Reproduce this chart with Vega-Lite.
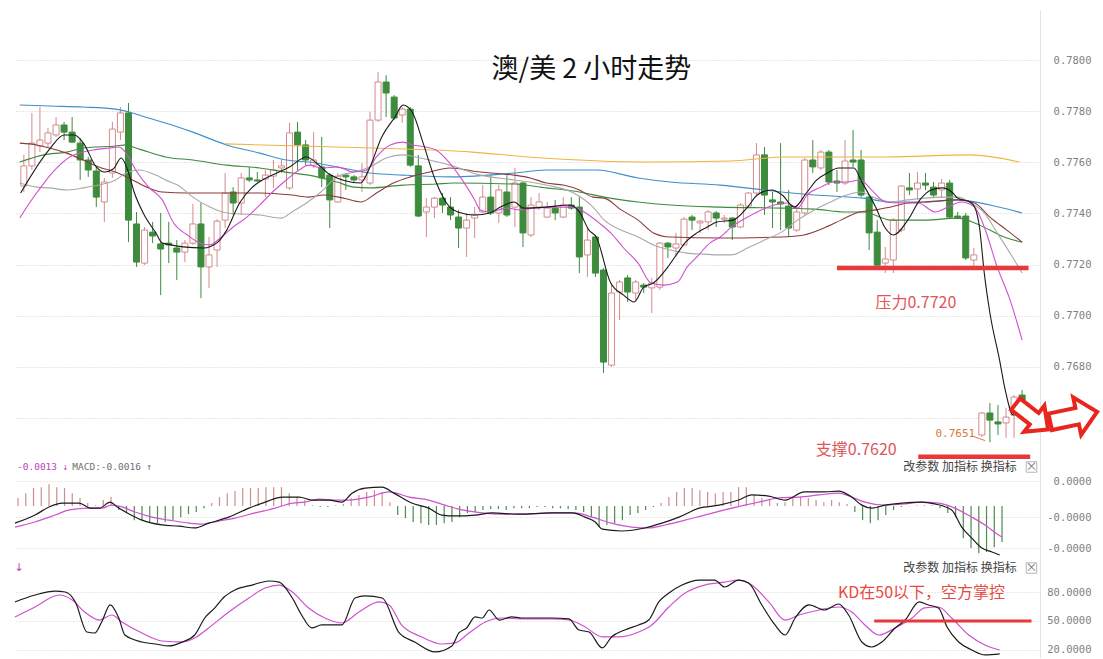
{
"$schema": "https://vega.github.io/schema/vega-lite/v6.json",
"background": "white",
"padding": {"left": 12, "top": 10, "right": 0, "bottom": 0},
"autosize": {"type": "pad"},
"bounds": "flush",
"spacing": 0,
"resolve": {"scale": {"color": "independent", "x": "independent", "y": "independent"}},
"config": {"view": {"stroke": null}, "font": "Noto Sans CJK SC"},
"datasets": {
"candles": [
{"i":0,"o":0.77507,"h":0.77629,"l":0.77484,"c":0.77586},
{"i":1,"o":0.77586,"h":0.77793,"l":0.77570,"c":0.77675},
{"i":2,"o":0.77664,"h":0.77816,"l":0.77640,"c":0.77687},
{"i":3,"o":0.77675,"h":0.77734,"l":0.77656,"c":0.77715},
{"i":4,"o":0.77707,"h":0.77777,"l":0.77699,"c":0.77746},
{"i":5,"o":0.77746,"h":0.77758,"l":0.77687,"c":0.77718},
{"i":6,"o":0.77718,"h":0.77777,"l":0.77675,"c":0.77679},
{"i":7,"o":0.77675,"h":0.77695,"l":0.77531,"c":0.77609},
{"i":8,"o":0.77609,"h":0.77621,"l":0.77543,"c":0.77570},
{"i":9,"o":0.77566,"h":0.77582,"l":0.77425,"c":0.77464},
{"i":10,"o":0.77445,"h":0.77539,"l":0.77367,"c":0.77523},
{"i":11,"o":0.77558,"h":0.77758,"l":0.77539,"c":0.77730},
{"i":12,"o":0.77718,"h":0.77816,"l":0.77687,"c":0.77793},
{"i":13,"o":0.77793,"h":0.77832,"l":0.77288,"c":0.77374},
{"i":14,"o":0.77359,"h":0.77406,"l":0.77191,"c":0.77210},
{"i":15,"o":0.77206,"h":0.77347,"l":0.77198,"c":0.77335},
{"i":16,"o":0.77327,"h":0.77367,"l":0.77284,"c":0.77312},
{"i":17,"o":0.77281,"h":0.77402,"l":0.77081,"c":0.77261},
{"i":18,"o":0.77284,"h":0.77367,"l":0.77206,"c":0.77277},
{"i":19,"o":0.77265,"h":0.77296,"l":0.77140,"c":0.77249},
{"i":20,"o":0.77249,"h":0.77296,"l":0.77210,"c":0.77284},
{"i":21,"o":0.77284,"h":0.77437,"l":0.77277,"c":0.77359},
{"i":22,"o":0.77359,"h":0.77441,"l":0.77069,"c":0.77191},
{"i":23,"o":0.77191,"h":0.77308,"l":0.77109,"c":0.77238},
{"i":24,"o":0.77257,"h":0.77378,"l":0.77191,"c":0.77370},
{"i":25,"o":0.77374,"h":0.77558,"l":0.77343,"c":0.77480},
{"i":26,"o":0.77484,"h":0.77503,"l":0.77394,"c":0.77441},
{"i":27,"o":0.77441,"h":0.77558,"l":0.77394,"c":0.77539},
{"i":28,"o":0.77539,"h":0.77582,"l":0.77523,"c":0.77531},
{"i":29,"o":0.77531,"h":0.77562,"l":0.77523,"c":0.77527},
{"i":30,"o":0.77535,"h":0.77570,"l":0.77464,"c":0.77550},
{"i":31,"o":0.77546,"h":0.77609,"l":0.77500,"c":0.77570},
{"i":32,"o":0.77578,"h":0.77609,"l":0.77558,"c":0.77586},
{"i":33,"o":0.77500,"h":0.77754,"l":0.77492,"c":0.77715},
{"i":34,"o":0.77718,"h":0.77758,"l":0.77570,"c":0.77668},
{"i":35,"o":0.77668,"h":0.77687,"l":0.77589,"c":0.77609},
{"i":36,"o":0.77589,"h":0.77718,"l":0.77578,"c":0.77609},
{"i":37,"o":0.77582,"h":0.77699,"l":0.77503,"c":0.77539},
{"i":38,"o":0.77550,"h":0.77558,"l":0.77343,"c":0.77453},
{"i":39,"o":0.77445,"h":0.77558,"l":0.77441,"c":0.77546},
{"i":40,"o":0.77550,"h":0.77558,"l":0.77492,"c":0.77543},
{"i":41,"o":0.77543,"h":0.77550,"l":0.77519,"c":0.77531},
{"i":42,"o":0.77531,"h":0.77597,"l":0.77484,"c":0.77543},
{"i":43,"o":0.77519,"h":0.77797,"l":0.77511,"c":0.77765},
{"i":44,"o":0.77765,"h":0.77953,"l":0.77758,"c":0.77914},
{"i":45,"o":0.77914,"h":0.77941,"l":0.77777,"c":0.77871},
{"i":46,"o":0.77855,"h":0.77863,"l":0.77765,"c":0.77773},
{"i":47,"o":0.77785,"h":0.77816,"l":0.77754,"c":0.77808},
{"i":48,"o":0.77808,"h":0.77816,"l":0.77582,"c":0.77589},
{"i":49,"o":0.77586,"h":0.77629,"l":0.77386,"c":0.77390},
{"i":50,"o":0.77406,"h":0.77460,"l":0.77308,"c":0.77425},
{"i":51,"o":0.77425,"h":0.77464,"l":0.77382,"c":0.77460},
{"i":52,"o":0.77460,"h":0.77480,"l":0.77402,"c":0.77433},
{"i":53,"o":0.77425,"h":0.77464,"l":0.77374,"c":0.77394},
{"i":54,"o":0.77386,"h":0.77414,"l":0.77265,"c":0.77343},
{"i":55,"o":0.77343,"h":0.77402,"l":0.77230,"c":0.77374},
{"i":56,"o":0.77382,"h":0.77425,"l":0.77304,"c":0.77394},
{"i":57,"o":0.77406,"h":0.77511,"l":0.77402,"c":0.77464},
{"i":58,"o":0.77464,"h":0.77550,"l":0.77394,"c":0.77402},
{"i":59,"o":0.77402,"h":0.77511,"l":0.77363,"c":0.77492},
{"i":60,"o":0.77484,"h":0.77550,"l":0.77386,"c":0.77394},
{"i":61,"o":0.77425,"h":0.77578,"l":0.77347,"c":0.77519},
{"i":62,"o":0.77519,"h":0.77523,"l":0.77269,"c":0.77324},
{"i":63,"o":0.77316,"h":0.77464,"l":0.77308,"c":0.77433},
{"i":64,"o":0.77425,"h":0.77480,"l":0.77414,"c":0.77445},
{"i":65,"o":0.77386,"h":0.77445,"l":0.77382,"c":0.77421},
{"i":66,"o":0.77421,"h":0.77453,"l":0.77374,"c":0.77402},
{"i":67,"o":0.77386,"h":0.77464,"l":0.77382,"c":0.77433},
{"i":68,"o":0.77433,"h":0.77464,"l":0.77414,"c":0.77421},
{"i":69,"o":0.77425,"h":0.77464,"l":0.77167,"c":0.77230},
{"i":70,"o":0.77238,"h":0.77347,"l":0.77152,"c":0.77296},
{"i":71,"o":0.77308,"h":0.77316,"l":0.77152,"c":0.77167},
{"i":72,"o":0.77179,"h":0.77187,"l":0.76776,"c":0.76819},
{"i":73,"o":0.76807,"h":0.77128,"l":0.76800,"c":0.77089},
{"i":74,"o":0.77093,"h":0.77140,"l":0.76983,"c":0.77132},
{"i":75,"o":0.77148,"h":0.77159,"l":0.77054,"c":0.77093},
{"i":76,"o":0.77089,"h":0.77140,"l":0.77062,"c":0.77132},
{"i":77,"o":0.77120,"h":0.77128,"l":0.77089,"c":0.77112},
{"i":78,"o":0.77109,"h":0.77148,"l":0.77011,"c":0.77128},
{"i":79,"o":0.77112,"h":0.77288,"l":0.77101,"c":0.77284},
{"i":80,"o":0.77284,"h":0.77288,"l":0.77226,"c":0.77269},
{"i":81,"o":0.77265,"h":0.77324,"l":0.77230,"c":0.77281},
{"i":82,"o":0.77277,"h":0.77386,"l":0.77273,"c":0.77378},
{"i":83,"o":0.77386,"h":0.77394,"l":0.77335,"c":0.77374},
{"i":84,"o":0.77363,"h":0.77374,"l":0.77324,"c":0.77370},
{"i":85,"o":0.77367,"h":0.77414,"l":0.77335,"c":0.77406},
{"i":86,"o":0.77402,"h":0.77410,"l":0.77347,"c":0.77382},
{"i":87,"o":0.77378,"h":0.77394,"l":0.77363,"c":0.77382},
{"i":88,"o":0.77382,"h":0.77386,"l":0.77296,"c":0.77347},
{"i":89,"o":0.77347,"h":0.77441,"l":0.77343,"c":0.77433},
{"i":90,"o":0.77429,"h":0.77484,"l":0.77421,"c":0.77480},
{"i":91,"o":0.77480,"h":0.77675,"l":0.77472,"c":0.77629},
{"i":92,"o":0.77629,"h":0.77660,"l":0.77394,"c":0.77472},
{"i":93,"o":0.77453,"h":0.77484,"l":0.77343,"c":0.77445},
{"i":94,"o":0.77445,"h":0.77675,"l":0.77335,"c":0.77437},
{"i":95,"o":0.77429,"h":0.77492,"l":0.77308,"c":0.77343},
{"i":96,"o":0.77335,"h":0.77433,"l":0.77327,"c":0.77406},
{"i":97,"o":0.77402,"h":0.77617,"l":0.77394,"c":0.77609},
{"i":98,"o":0.77609,"h":0.77687,"l":0.77558,"c":0.77582},
{"i":99,"o":0.77578,"h":0.77648,"l":0.77570,"c":0.77640},
{"i":100,"o":0.77640,"h":0.77648,"l":0.77511,"c":0.77523},
{"i":101,"o":0.77527,"h":0.77570,"l":0.77484,"c":0.77519},
{"i":102,"o":0.77519,"h":0.77687,"l":0.77511,"c":0.77605},
{"i":103,"o":0.77609,"h":0.77726,"l":0.77582,"c":0.77601},
{"i":104,"o":0.77609,"h":0.77648,"l":0.77464,"c":0.77472},
{"i":105,"o":0.77464,"h":0.77472,"l":0.77257,"c":0.77324},
{"i":106,"o":0.77327,"h":0.77374,"l":0.77191,"c":0.77198},
{"i":107,"o":0.77206,"h":0.77269,"l":0.77167,"c":0.77222},
{"i":108,"o":0.77218,"h":0.77382,"l":0.77167,"c":0.77374},
{"i":109,"o":0.77335,"h":0.77511,"l":0.77327,"c":0.77507},
{"i":110,"o":0.77500,"h":0.77558,"l":0.77472,"c":0.77492},
{"i":111,"o":0.77496,"h":0.77562,"l":0.77453,"c":0.77519},
{"i":112,"o":0.77519,"h":0.77558,"l":0.77492,"c":0.77511},
{"i":113,"o":0.77503,"h":0.77523,"l":0.77460,"c":0.77472},
{"i":114,"o":0.77492,"h":0.77535,"l":0.77460,"c":0.77519},
{"i":115,"o":0.77519,"h":0.77531,"l":0.77382,"c":0.77386},
{"i":116,"o":0.77390,"h":0.77406,"l":0.77378,"c":0.77382},
{"i":117,"o":0.77390,"h":0.77402,"l":0.77218,"c":0.77226},
{"i":118,"o":0.77218,"h":0.77265,"l":0.77179,"c":0.77238},
{"i":119,"o":0.76534,"h":0.76624,"l":0.76526,"c":0.76620},
{"i":120,"o":0.76620,"h":0.76659,"l":0.76506,"c":0.76592},
{"i":121,"o":0.76585,"h":0.76651,"l":0.76534,"c":0.76577},
{"i":122,"o":0.76581,"h":0.76639,"l":0.76522,"c":0.76604},
{"i":123,"o":0.76612,"h":0.76690,"l":0.76522,"c":0.76682},
{"i":124,"o":0.76690,"h":0.76710,"l":0.76632,"c":0.76671}
],
"ma": [
{"ma":"MA250","i":25.0,"v":0.77672},{"ma":"MA250","i":43.4,"v":0.77656},{"ma":"MA250","i":55.7,"v":0.77640},{"ma":"MA250","i":62.7,"v":0.77621},{"ma":"MA250","i":77.9,"v":0.77601},{"ma":"MA250","i":87.7,"v":0.77605},{"ma":"MA250","i":94.7,"v":0.77621},{"ma":"MA250","i":107.0,"v":0.77621},{"ma":"MA250","i":117.6,"v":0.77629},{"ma":"MA250","i":123.7,"v":0.77601},
{"ma":"MA120","i":-0.5,"v":0.77824},{"ma":"MA120","i":3.2,"v":0.77820},{"ma":"MA120","i":7.4,"v":0.77816},{"ma":"MA120","i":11.4,"v":0.77808},{"ma":"MA120","i":13.5,"v":0.77793},{"ma":"MA120","i":15.5,"v":0.77773},{"ma":"MA120","i":17.6,"v":0.77754},{"ma":"MA120","i":21.0,"v":0.77718},{"ma":"MA120","i":25.2,"v":0.77668},{"ma":"MA120","i":29.3,"v":0.77636},{"ma":"MA120","i":32.6,"v":0.77609},{"ma":"MA120","i":35.4,"v":0.77601},{"ma":"MA120","i":38.9,"v":0.77582},{"ma":"MA120","i":43.0,"v":0.77558},{"ma":"MA120","i":47.1,"v":0.77550},{"ma":"MA120","i":53.3,"v":0.77543},{"ma":"MA120","i":60.9,"v":0.77558},{"ma":"MA120","i":64.9,"v":0.77570},{"ma":"MA120","i":71.1,"v":0.77570},{"ma":"MA120","i":76.3,"v":0.77539},{"ma":"MA120","i":80.3,"v":0.77523},{"ma":"MA120","i":86.5,"v":0.77511},{"ma":"MA120","i":94.1,"v":0.77484},{"ma":"MA120","i":98.2,"v":0.77472},{"ma":"MA120","i":104.3,"v":0.77460},{"ma":"MA120","i":107.7,"v":0.77445},{"ma":"MA120","i":111.9,"v":0.77445},{"ma":"MA120","i":116.0,"v":0.77453},{"ma":"MA120","i":120.0,"v":0.77433},{"ma":"MA120","i":124.0,"v":0.77402},
{"ma":"MA60","i":-0.5,"v":0.77601},{"ma":"MA60","i":2.5,"v":0.77629},{"ma":"MA60","i":5.3,"v":0.77640},{"ma":"MA60","i":7.4,"v":0.77656},{"ma":"MA60","i":11.4,"v":0.77664},{"ma":"MA60","i":12.7,"v":0.77668},{"ma":"MA60","i":13.9,"v":0.77656},{"ma":"MA60","i":15.5,"v":0.77640},{"ma":"MA60","i":17.6,"v":0.77621},{"ma":"MA60","i":21.0,"v":0.77609},{"ma":"MA60","i":25.2,"v":0.77589},{"ma":"MA60","i":29.3,"v":0.77578},{"ma":"MA60","i":33.3,"v":0.77558},{"ma":"MA60","i":35.4,"v":0.77550},{"ma":"MA60","i":38.9,"v":0.77523},{"ma":"MA60","i":41.0,"v":0.77503},{"ma":"MA60","i":43.0,"v":0.77500},{"ma":"MA60","i":47.1,"v":0.77511},{"ma":"MA60","i":51.2,"v":0.77515},{"ma":"MA60","i":53.3,"v":0.77519},{"ma":"MA60","i":60.9,"v":0.77515},{"ma":"MA60","i":64.9,"v":0.77500},{"ma":"MA60","i":69.0,"v":0.77484},{"ma":"MA60","i":72.1,"v":0.77464},{"ma":"MA60","i":76.3,"v":0.77445},{"ma":"MA60","i":80.3,"v":0.77433},{"ma":"MA60","i":86.5,"v":0.77425},{"ma":"MA60","i":94.1,"v":0.77421},{"ma":"MA60","i":98.2,"v":0.77417},{"ma":"MA60","i":102.2,"v":0.77406},{"ma":"MA60","i":104.3,"v":0.77406},{"ma":"MA60","i":107.7,"v":0.77374},{"ma":"MA60","i":111.9,"v":0.77374},{"ma":"MA60","i":116.0,"v":0.77382},{"ma":"MA60","i":118.1,"v":0.77363},{"ma":"MA60","i":120.0,"v":0.77335},{"ma":"MA60","i":122.1,"v":0.77304},{"ma":"MA60","i":124.0,"v":0.77288},
{"ma":"MA30","i":-0.5,"v":0.77675},{"ma":"MA30","i":1.6,"v":0.77668},{"ma":"MA30","i":3.2,"v":0.77656},{"ma":"MA30","i":5.3,"v":0.77636},{"ma":"MA30","i":7.4,"v":0.77609},{"ma":"MA30","i":9.3,"v":0.77582},{"ma":"MA30","i":11.4,"v":0.77562},{"ma":"MA30","i":13.5,"v":0.77531},{"ma":"MA30","i":15.5,"v":0.77500},{"ma":"MA30","i":17.2,"v":0.77484},{"ma":"MA30","i":20.3,"v":0.77480},{"ma":"MA30","i":25.2,"v":0.77480},{"ma":"MA30","i":29.3,"v":0.77480},{"ma":"MA30","i":33.3,"v":0.77472},{"ma":"MA30","i":35.4,"v":0.77464},{"ma":"MA30","i":37.3,"v":0.77472},{"ma":"MA30","i":39.7,"v":0.77460},{"ma":"MA30","i":41.9,"v":0.77445},{"ma":"MA30","i":43.8,"v":0.77480},{"ma":"MA30","i":45.9,"v":0.77519},{"ma":"MA30","i":48.0,"v":0.77543},{"ma":"MA30","i":50.4,"v":0.77562},{"ma":"MA30","i":52.9,"v":0.77578},{"ma":"MA30","i":56.7,"v":0.77562},{"ma":"MA30","i":60.9,"v":0.77550},{"ma":"MA30","i":62.9,"v":0.77539},{"ma":"MA30","i":64.9,"v":0.77519},{"ma":"MA30","i":67.0,"v":0.77511},{"ma":"MA30","i":69.0,"v":0.77492},{"ma":"MA30","i":70.7,"v":0.77464},{"ma":"MA30","i":72.1,"v":0.77460},{"ma":"MA30","i":74.2,"v":0.77414},{"ma":"MA30","i":76.3,"v":0.77374},{"ma":"MA30","i":78.2,"v":0.77324},{"ma":"MA30","i":80.3,"v":0.77308},{"ma":"MA30","i":86.5,"v":0.77304},{"ma":"MA30","i":94.1,"v":0.77308},{"ma":"MA30","i":96.9,"v":0.77316},{"ma":"MA30","i":99.4,"v":0.77343},{"ma":"MA30","i":101.5,"v":0.77374},{"ma":"MA30","i":103.4,"v":0.77402},{"ma":"MA30","i":105.8,"v":0.77414},{"ma":"MA30","i":107.7,"v":0.77425},{"ma":"MA30","i":109.8,"v":0.77441},{"ma":"MA30","i":111.9,"v":0.77445},{"ma":"MA30","i":116.0,"v":0.77453},{"ma":"MA30","i":118.1,"v":0.77441},{"ma":"MA30","i":120.0,"v":0.77386},{"ma":"MA30","i":122.1,"v":0.77335},{"ma":"MA30","i":124.0,"v":0.77288},
{"ma":"MA20","i":-0.5,"v":0.77519},{"ma":"MA20","i":1.6,"v":0.77503},{"ma":"MA20","i":3.2,"v":0.77500},{"ma":"MA20","i":5.3,"v":0.77492},{"ma":"MA20","i":7.4,"v":0.77500},{"ma":"MA20","i":9.3,"v":0.77511},{"ma":"MA20","i":11.4,"v":0.77531},{"ma":"MA20","i":12.7,"v":0.77558},{"ma":"MA20","i":14.3,"v":0.77570},{"ma":"MA20","i":16.4,"v":0.77550},{"ma":"MA20","i":17.6,"v":0.77531},{"ma":"MA20","i":19.1,"v":0.77511},{"ma":"MA20","i":21.0,"v":0.77464},{"ma":"MA20","i":23.1,"v":0.77425},{"ma":"MA20","i":25.2,"v":0.77402},{"ma":"MA20","i":27.2,"v":0.77398},{"ma":"MA20","i":29.3,"v":0.77394},{"ma":"MA20","i":32.0,"v":0.77382},{"ma":"MA20","i":33.3,"v":0.77406},{"ma":"MA20","i":35.1,"v":0.77441},{"ma":"MA20","i":36.9,"v":0.77484},{"ma":"MA20","i":38.9,"v":0.77543},{"ma":"MA20","i":41.0,"v":0.77562},{"ma":"MA20","i":43.0,"v":0.77582},{"ma":"MA20","i":45.0,"v":0.77617},{"ma":"MA20","i":47.1,"v":0.77629},{"ma":"MA20","i":48.7,"v":0.77621},{"ma":"MA20","i":50.4,"v":0.77609},{"ma":"MA20","i":52.9,"v":0.77589},{"ma":"MA20","i":56.7,"v":0.77550},{"ma":"MA20","i":60.9,"v":0.77531},{"ma":"MA20","i":64.9,"v":0.77511},{"ma":"MA20","i":68.3,"v":0.77480},{"ma":"MA20","i":70.7,"v":0.77425},{"ma":"MA20","i":72.1,"v":0.77374},{"ma":"MA20","i":74.2,"v":0.77335},{"ma":"MA20","i":76.3,"v":0.77308},{"ma":"MA20","i":78.2,"v":0.77277},{"ma":"MA20","i":80.3,"v":0.77257},{"ma":"MA20","i":82.4,"v":0.77245},{"ma":"MA20","i":84.4,"v":0.77241},{"ma":"MA20","i":86.5,"v":0.77238},{"ma":"MA20","i":87.9,"v":0.77238},{"ma":"MA20","i":89.9,"v":0.77265},{"ma":"MA20","i":92.0,"v":0.77296},{"ma":"MA20","i":94.1,"v":0.77327},{"ma":"MA20","i":96.1,"v":0.77374},{"ma":"MA20","i":98.2,"v":0.77414},{"ma":"MA20","i":100.2,"v":0.77445},{"ma":"MA20","i":102.2,"v":0.77472},{"ma":"MA20","i":103.9,"v":0.77484},{"ma":"MA20","i":105.8,"v":0.77460},{"ma":"MA20","i":107.7,"v":0.77445},{"ma":"MA20","i":109.8,"v":0.77453},{"ma":"MA20","i":111.9,"v":0.77460},{"ma":"MA20","i":113.9,"v":0.77464},{"ma":"MA20","i":116.0,"v":0.77464},{"ma":"MA20","i":117.6,"v":0.77441},{"ma":"MA20","i":119.3,"v":0.77402},{"ma":"MA20","i":120.9,"v":0.77324},{"ma":"MA20","i":122.5,"v":0.77245},{"ma":"MA20","i":124.0,"v":0.77167},
{"ma":"MA10","i":-0.5,"v":0.77382},{"ma":"MA10","i":0.7,"v":0.77441},{"ma":"MA10","i":2.5,"v":0.77519},{"ma":"MA10","i":4.1,"v":0.77578},{"ma":"MA10","i":5.7,"v":0.77621},{"ma":"MA10","i":7.4,"v":0.77640},{"ma":"MA10","i":8.6,"v":0.77648},{"ma":"MA10","i":10.6,"v":0.77656},{"ma":"MA10","i":11.8,"v":0.77660},{"ma":"MA10","i":12.4,"v":0.77648},{"ma":"MA10","i":13.0,"v":0.77621},{"ma":"MA10","i":13.9,"v":0.77570},{"ma":"MA10","i":15.5,"v":0.77503},{"ma":"MA10","i":17.2,"v":0.77453},{"ma":"MA10","i":18.6,"v":0.77363},{"ma":"MA10","i":20.3,"v":0.77316},{"ma":"MA10","i":21.9,"v":0.77284},{"ma":"MA10","i":23.1,"v":0.77277},{"ma":"MA10","i":24.4,"v":0.77304},{"ma":"MA10","i":26.0,"v":0.77347},{"ma":"MA10","i":27.7,"v":0.77386},{"ma":"MA10","i":29.3,"v":0.77433},{"ma":"MA10","i":30.9,"v":0.77484},{"ma":"MA10","i":32.6,"v":0.77531},{"ma":"MA10","i":34.2,"v":0.77570},{"ma":"MA10","i":35.4,"v":0.77589},{"ma":"MA10","i":36.9,"v":0.77578},{"ma":"MA10","i":38.9,"v":0.77582},{"ma":"MA10","i":41.0,"v":0.77562},{"ma":"MA10","i":42.6,"v":0.77570},{"ma":"MA10","i":43.8,"v":0.77621},{"ma":"MA10","i":45.5,"v":0.77668},{"ma":"MA10","i":47.1,"v":0.77679},{"ma":"MA10","i":48.3,"v":0.77668},{"ma":"MA10","i":49.9,"v":0.77660},{"ma":"MA10","i":51.2,"v":0.77648},{"ma":"MA10","i":52.9,"v":0.77597},{"ma":"MA10","i":54.2,"v":0.77543},{"ma":"MA10","i":56.0,"v":0.77453},{"ma":"MA10","i":56.7,"v":0.77414},{"ma":"MA10","i":57.9,"v":0.77406},{"ma":"MA10","i":60.0,"v":0.77421},{"ma":"MA10","i":61.6,"v":0.77414},{"ma":"MA10","i":63.3,"v":0.77421},{"ma":"MA10","i":66.2,"v":0.77425},{"ma":"MA10","i":68.3,"v":0.77425},{"ma":"MA10","i":69.6,"v":0.77406},{"ma":"MA10","i":71.3,"v":0.77367},{"ma":"MA10","i":72.9,"v":0.77324},{"ma":"MA10","i":74.5,"v":0.77265},{"ma":"MA10","i":76.3,"v":0.77206},{"ma":"MA10","i":77.9,"v":0.77128},{"ma":"MA10","i":79.5,"v":0.77120},{"ma":"MA10","i":81.2,"v":0.77132},{"ma":"MA10","i":82.4,"v":0.77191},{"ma":"MA10","i":83.6,"v":0.77230},{"ma":"MA10","i":85.2,"v":0.77284},{"ma":"MA10","i":86.5,"v":0.77308},{"ma":"MA10","i":87.9,"v":0.77347},{"ma":"MA10","i":89.9,"v":0.77386},{"ma":"MA10","i":91.6,"v":0.77414},{"ma":"MA10","i":93.2,"v":0.77433},{"ma":"MA10","i":94.8,"v":0.77441},{"ma":"MA10","i":96.1,"v":0.77421},{"ma":"MA10","i":97.3,"v":0.77472},{"ma":"MA10","i":99.0,"v":0.77503},{"ma":"MA10","i":100.6,"v":0.77523},{"ma":"MA10","i":102.2,"v":0.77523},{"ma":"MA10","i":103.9,"v":0.77531},{"ma":"MA10","i":105.3,"v":0.77492},{"ma":"MA10","i":107.0,"v":0.77445},{"ma":"MA10","i":109.0,"v":0.77441},{"ma":"MA10","i":111.1,"v":0.77441},{"ma":"MA10","i":113.2,"v":0.77406},{"ma":"MA10","i":114.8,"v":0.77425},{"ma":"MA10","i":116.4,"v":0.77445},{"ma":"MA10","i":118.1,"v":0.77425},{"ma":"MA10","i":119.3,"v":0.77347},{"ma":"MA10","i":120.9,"v":0.77191},{"ma":"MA10","i":122.5,"v":0.77062},{"ma":"MA10","i":124.0,"v":0.76905},
{"ma":"MA5","i":-0.4,"v":0.77480},{"ma":"MA5","i":3.1,"v":0.77648},{"ma":"MA5","i":5.0,"v":0.77707},{"ma":"MA5","i":6.3,"v":0.77707},{"ma":"MA5","i":7.4,"v":0.77675},{"ma":"MA5","i":9.0,"v":0.77582},{"ma":"MA5","i":10.0,"v":0.77562},{"ma":"MA5","i":11.1,"v":0.77574},{"ma":"MA5","i":12.1,"v":0.77617},{"ma":"MA5","i":12.9,"v":0.77570},{"ma":"MA5","i":13.7,"v":0.77484},{"ma":"MA5","i":15.1,"v":0.77386},{"ma":"MA5","i":16.4,"v":0.77324},{"ma":"MA5","i":17.2,"v":0.77284},{"ma":"MA5","i":22.3,"v":0.77265},{"ma":"MA5","i":24.1,"v":0.77288},{"ma":"MA5","i":25.2,"v":0.77335},{"ma":"MA5","i":26.8,"v":0.77441},{"ma":"MA5","i":28.3,"v":0.77500},{"ma":"MA5","i":30.1,"v":0.77539},{"ma":"MA5","i":31.7,"v":0.77562},{"ma":"MA5","i":33.0,"v":0.77582},{"ma":"MA5","i":35.1,"v":0.77621},{"ma":"MA5","i":36.9,"v":0.77582},{"ma":"MA5","i":38.1,"v":0.77550},{"ma":"MA5","i":41.8,"v":0.77519},{"ma":"MA5","i":43.0,"v":0.77582},{"ma":"MA5","i":44.4,"v":0.77695},{"ma":"MA5","i":46.1,"v":0.77777},{"ma":"MA5","i":47.1,"v":0.77824},{"ma":"MA5","i":48.3,"v":0.77793},{"ma":"MA5","i":49.6,"v":0.77675},{"ma":"MA5","i":51.2,"v":0.77523},{"ma":"MA5","i":52.9,"v":0.77425},{"ma":"MA5","i":53.9,"v":0.77406},{"ma":"MA5","i":56.0,"v":0.77394},{"ma":"MA5","i":57.9,"v":0.77402},{"ma":"MA5","i":59.2,"v":0.77425},{"ma":"MA5","i":60.9,"v":0.77445},{"ma":"MA5","i":62.1,"v":0.77421},{"ma":"MA5","i":64.9,"v":0.77425},{"ma":"MA5","i":67.8,"v":0.77433},{"ma":"MA5","i":69.0,"v":0.77406},{"ma":"MA5","i":70.2,"v":0.77335},{"ma":"MA5","i":71.1,"v":0.77308},{"ma":"MA5","i":72.9,"v":0.77128},{"ma":"MA5","i":74.5,"v":0.77081},{"ma":"MA5","i":75.8,"v":0.77054},{"ma":"MA5","i":77.0,"v":0.77112},{"ma":"MA5","i":78.2,"v":0.77128},{"ma":"MA5","i":80.0,"v":0.77191},{"ma":"MA5","i":81.2,"v":0.77245},{"ma":"MA5","i":82.2,"v":0.77288},{"ma":"MA5","i":83.6,"v":0.77324},{"ma":"MA5","i":84.9,"v":0.77347},{"ma":"MA5","i":86.1,"v":0.77367},{"ma":"MA5","i":88.1,"v":0.77374},{"ma":"MA5","i":89.9,"v":0.77425},{"ma":"MA5","i":91.1,"v":0.77472},{"ma":"MA5","i":92.9,"v":0.77492},{"ma":"MA5","i":94.2,"v":0.77472},{"ma":"MA5","i":95.7,"v":0.77425},{"ma":"MA5","i":97.2,"v":0.77480},{"ma":"MA5","i":98.5,"v":0.77531},{"ma":"MA5","i":99.8,"v":0.77558},{"ma":"MA5","i":101.2,"v":0.77578},{"ma":"MA5","i":103.1,"v":0.77578},{"ma":"MA5","i":104.1,"v":0.77523},{"ma":"MA5","i":105.8,"v":0.77425},{"ma":"MA5","i":107.0,"v":0.77343},{"ma":"MA5","i":108.0,"v":0.77316},{"ma":"MA5","i":109.8,"v":0.77374},{"ma":"MA5","i":111.3,"v":0.77453},{"ma":"MA5","i":112.7,"v":0.77492},{"ma":"MA5","i":114.1,"v":0.77500},{"ma":"MA5","i":115.4,"v":0.77480},{"ma":"MA5","i":116.0,"v":0.77460},{"ma":"MA5","i":117.5,"v":0.77445},{"ma":"MA5","i":118.1,"v":0.77425},{"ma":"MA5","i":118.7,"v":0.77347},{"ma":"MA5","i":119.3,"v":0.77167},{"ma":"MA5","i":120.0,"v":0.77011},{"ma":"MA5","i":121.2,"v":0.76827},{"ma":"MA5","i":121.9,"v":0.76710},{"ma":"MA5","i":122.9,"v":0.76612},{"ma":"MA5","i":124.0,"v":0.76632}
],
"hist": [
{"j":0,"v":0.00027},{"j":1,"v":0.00043},{"j":2,"v":0.0006},{"j":3,"v":0.00063},{"j":4,"v":0.00073},{"j":5,"v":0.00063},{"j":6,"v":0.0006},{"j":7,"v":0.00043},{"j":8,"v":0.00027},{"j":9,"v":0.0001},{"j":10,"v":0.00003},{"j":11,"v":0.0002},{"j":12,"v":0.0003},
{"j":13,"v":-0.00013},{"j":14,"v":-0.00023},{"j":15,"v":-0.00047},{"j":16,"v":-0.00047},{"j":17,"v":-0.00053},{"j":18,"v":-0.00057},{"j":19,"v":-0.00053},{"j":20,"v":-0.00047},{"j":21,"v":-0.00037},{"j":22,"v":-0.00027},{"j":23,"v":-0.0002},{"j":24,"v":-0.00007},
{"j":25,"v":0.0001},{"j":26,"v":0.0003},{"j":27,"v":0.00043},{"j":28,"v":0.0005},{"j":29,"v":0.0006},{"j":30,"v":0.0006},{"j":31,"v":0.0006},{"j":32,"v":0.00063},{"j":33,"v":0.00063},{"j":34,"v":0.00063},{"j":35,"v":0.00043},{"j":36,"v":0.0003},{"j":37,"v":0.0002},{"j":38,"v":0.00003},
{"j":39,"v":-0.00003},{"j":40,"v":-0.00003},
{"j":41,"v":0.00003},{"j":42,"v":0.00007},{"j":43,"v":0.00027},{"j":44,"v":0.00037},{"j":45,"v":0.00047},{"j":46,"v":0.00053},{"j":47,"v":0.00047},{"j":48,"v":0.00013},
{"j":49,"v":-0.0003},{"j":50,"v":-0.0004},{"j":51,"v":-0.00053},{"j":52,"v":-0.00057},{"j":53,"v":-0.00063},{"j":54,"v":-0.00063},{"j":55,"v":-0.00057},{"j":56,"v":-0.00053},{"j":57,"v":-0.00037},{"j":58,"v":-0.00023},{"j":59,"v":-0.0002},{"j":60,"v":-0.00013},{"j":61,"v":-0.0001},{"j":62,"v":-0.0001},{"j":63,"v":-0.00013},{"j":64,"v":-0.00007},
{"j":65,"v":-0.00007},{"j":66,"v":-0.00007},{"j":67,"v":-0.00003},{"j":68,"v":-0.00003},{"j":69,"v":-0.00007},{"j":70,"v":-0.00007},{"j":71,"v":-0.0001},{"j":72,"v":-0.00013},{"j":73,"v":-0.0002},{"j":74,"v":-0.00037},{"j":75,"v":-0.0007},{"j":76,"v":-0.00063},{"j":77,"v":-0.00057},{"j":78,"v":-0.00047},{"j":79,"v":-0.0003},{"j":80,"v":-0.00023},{"j":81,"v":-0.00013},{"j":82,"v":-0.00003},
{"j":83,"v":0.0001},{"j":84,"v":0.0003},{"j":85,"v":0.00047},{"j":86,"v":0.0006},{"j":87,"v":0.0006},{"j":88,"v":0.00053},{"j":89,"v":0.00047},{"j":90,"v":0.00043},{"j":91,"v":0.00047},{"j":92,"v":0.00047},{"j":93,"v":0.00063},{"j":94,"v":0.00063},{"j":95,"v":0.00037},{"j":96,"v":0.00027},{"j":97,"v":0.0002},{"j":98,"v":0.0001},{"j":99,"v":0.00013},{"j":100,"v":0.00027},{"j":101,"v":0.0003},{"j":102,"v":0.00027},{"j":103,"v":0.0002},{"j":104,"v":0.00013},{"j":105,"v":0.0002},{"j":106,"v":0.00013},{"j":107,"v":0.00007},
{"j":108,"v":-0.0002},{"j":109,"v":-0.00047},{"j":110,"v":-0.00057},{"j":111,"v":-0.00047},{"j":112,"v":-0.0003},{"j":113,"v":-0.00013},{"j":114,"v":-0.00003},{"j":115,"v":-0.00001},
{"j":116,"v":0.00003},{"j":117,"v":0.00003},{"j":118,"v":0.00003},
{"j":119,"v":-0.00007},{"j":120,"v":-0.00023},{"j":121,"v":-0.00037},{"j":122,"v":-0.00107},{"j":123,"v":-0.0014},{"j":124,"v":-0.00157},{"j":125,"v":-0.00153},{"j":126,"v":-0.00137},{"j":127,"v":-0.0012}
],
"macd": [
{"s":"DEA","j":-0.4,"v":-0.0007},{"s":"DEA","j":2.2,"v":-0.00053},{"s":"DEA","j":4.8,"v":-0.0003},{"s":"DEA","j":6.6,"v":-0.00013},{"s":"DEA","j":9.2,"v":-0.00007},{"s":"DEA","j":10.8,"v":-0.00007},{"s":"DEA","j":12.1,"v":0.00003},{"s":"DEA","j":13.4,"v":-0.00003},{"s":"DEA","j":15.1,"v":-0.0002},{"s":"DEA","j":17.3,"v":-0.00037},{"s":"DEA","j":19.5,"v":-0.00047},{"s":"DEA","j":22.1,"v":-0.00057},{"s":"DEA","j":23.7,"v":-0.0006},{"s":"DEA","j":25.9,"v":-0.0005},{"s":"DEA","j":28.0,"v":-0.0004},{"s":"DEA","j":30.6,"v":-0.00023},{"s":"DEA","j":33.2,"v":-0.00007},{"s":"DEA","j":35.4,"v":0.0001},{"s":"DEA","j":37.0,"v":0.00013},{"s":"DEA","j":38.8,"v":0.00023},{"s":"DEA","j":40.9,"v":0.0002},{"s":"DEA","j":42.7,"v":0.0002},{"s":"DEA","j":45.3,"v":0.0003},{"s":"DEA","j":47.9,"v":0.00047},{"s":"DEA","j":50.5,"v":0.0003},{"s":"DEA","j":53.0,"v":0.0002},{"s":"DEA","j":55.1,"v":0.00003},{"s":"DEA","j":57.3,"v":-0.00013},{"s":"DEA","j":59.9,"v":-0.00023},{"s":"DEA","j":62.5,"v":-0.00027},{"s":"DEA","j":64.6,"v":-0.00027},{"s":"DEA","j":68.9,"v":-0.00023},{"s":"DEA","j":71.9,"v":-0.00023},{"s":"DEA","j":74.1,"v":-0.00037},{"s":"DEA","j":76.6,"v":-0.00057},{"s":"DEA","j":79.2,"v":-0.0007},{"s":"DEA","j":81.4,"v":-0.00073},{"s":"DEA","j":83.5,"v":-0.00063},{"s":"DEA","j":86.1,"v":-0.00047},{"s":"DEA","j":88.6,"v":-0.0003},{"s":"DEA","j":91.2,"v":-0.00013},{"s":"DEA","j":93.8,"v":0.00003},{"s":"DEA","j":95.6,"v":0.00013},{"s":"DEA","j":98.2,"v":0.00027},{"s":"DEA","j":100.8,"v":0.0003},{"s":"DEA","j":103.4,"v":0.00037},{"s":"DEA","j":105.9,"v":0.00043},{"s":"DEA","j":107.6,"v":0.0003},{"s":"DEA","j":109.3,"v":0.00013},{"s":"DEA","j":111.9,"v":0.00003},{"s":"DEA","j":114.5,"v":0.00007},{"s":"DEA","j":116.6,"v":0.00013},{"s":"DEA","j":118.8,"v":0.0001},{"s":"DEA","j":120.9,"v":-0.00007},{"s":"DEA","j":123.1,"v":-0.00037},{"s":"DEA","j":124.8,"v":-0.00063},{"s":"DEA","j":126.6,"v":-0.00097},{"s":"DEA","j":127.0,"v":-0.00103},
{"s":"DIF","j":-0.4,"v":-0.00057},{"s":"DIF","j":2.2,"v":-0.0003},{"s":"DIF","j":4.0,"v":-0.00003},{"s":"DIF","j":5.7,"v":0.0001},{"s":"DIF","j":7.9,"v":0.0001},{"s":"DIF","j":9.3,"v":-0.00007},{"s":"DIF","j":10.5,"v":-0.00007},{"s":"DIF","j":11.9,"v":0.00013},{"s":"DIF","j":12.8,"v":-0.00003},{"s":"DIF","j":14.1,"v":-0.00023},{"s":"DIF","j":16.0,"v":-0.00047},{"s":"DIF","j":18.6,"v":-0.00063},{"s":"DIF","j":20.8,"v":-0.00067},{"s":"DIF","j":22.8,"v":-0.00073},{"s":"DIF","j":24.6,"v":-0.00057},{"s":"DIF","j":27.2,"v":-0.00037},{"s":"DIF","j":29.8,"v":-0.00007},{"s":"DIF","j":31.9,"v":0.00013},{"s":"DIF","j":34.1,"v":0.0003},{"s":"DIF","j":36.3,"v":0.0003},{"s":"DIF","j":37.9,"v":0.0002},{"s":"DIF","j":40.1,"v":0.0002},{"s":"DIF","j":41.8,"v":0.00013},{"s":"DIF","j":43.1,"v":0.00043},{"s":"DIF","j":44.8,"v":0.0006},{"s":"DIF","j":47.0,"v":0.00063},{"s":"DIF","j":48.5,"v":0.00043},{"s":"DIF","j":50.8,"v":0.0001},{"s":"DIF","j":53.0,"v":-0.00007},{"s":"DIF","j":54.7,"v":-0.0003},{"s":"DIF","j":56.4,"v":-0.00033},{"s":"DIF","j":59.0,"v":-0.0003},{"s":"DIF","j":61.2,"v":-0.00023},{"s":"DIF","j":64.6,"v":-0.00027},{"s":"DIF","j":68.9,"v":-0.00023},{"s":"DIF","j":71.5,"v":-0.00023},{"s":"DIF","j":73.2,"v":-0.00037},{"s":"DIF","j":74.5,"v":-0.00053},{"s":"DIF","j":75.4,"v":-0.00077},{"s":"DIF","j":77.9,"v":-0.00083},{"s":"DIF","j":80.9,"v":-0.00073},{"s":"DIF","j":83.1,"v":-0.00057},{"s":"DIF","j":85.3,"v":-0.00037},{"s":"DIF","j":87.9,"v":-0.00007},{"s":"DIF","j":90.5,"v":0.00003},{"s":"DIF","j":93.0,"v":0.0002},{"s":"DIF","j":94.7,"v":0.00037},{"s":"DIF","j":96.9,"v":0.00033},{"s":"DIF","j":99.0,"v":0.0002},{"s":"DIF","j":101.5,"v":0.00047},{"s":"DIF","j":104.1,"v":0.00047},{"s":"DIF","j":105.9,"v":0.0005},{"s":"DIF","j":107.6,"v":0.0003},{"s":"DIF","j":108.9,"v":0.00003},{"s":"DIF","j":110.2,"v":-0.00007},{"s":"DIF","j":111.9,"v":0.00003},{"s":"DIF","j":114.1,"v":0.0001},{"s":"DIF","j":116.6,"v":0.00013},{"s":"DIF","j":118.3,"v":0.00007},{"s":"DIF","j":120.5,"v":-0.00013},{"s":"DIF","j":121.8,"v":-0.0007},{"s":"DIF","j":123.1,"v":-0.00107},{"s":"DIF","j":124.4,"v":-0.0014},{"s":"DIF","j":125.7,"v":-0.00153},{"s":"DIF","j":126.7,"v":-0.00163}
],
"kd": [
{"s":"D","j":-0.4,"v":54.2},{"s":"D","j":2.2,"v":64.5},{"s":"D","j":5.3,"v":76.9},{"s":"D","j":7.0,"v":71.7},{"s":"D","j":8.6,"v":59.3},{"s":"D","j":10.5,"v":51.0},{"s":"D","j":12.1,"v":56.2},{"s":"D","j":13.4,"v":49.0},{"s":"D","j":16.0,"v":37.6},{"s":"D","j":18.6,"v":29.3},{"s":"D","j":21.2,"v":28.3},{"s":"D","j":22.8,"v":32.4},{"s":"D","j":24.6,"v":42.8},{"s":"D","j":27.2,"v":59.3},{"s":"D","j":29.8,"v":73.8},{"s":"D","j":31.9,"v":84.1},{"s":"D","j":33.7,"v":87.2},{"s":"D","j":35.4,"v":80.0},{"s":"D","j":37.5,"v":63.5},{"s":"D","j":39.6,"v":53.1},{"s":"D","j":41.8,"v":47.9},{"s":"D","j":44.0,"v":59.3},{"s":"D","j":46.6,"v":69.7},{"s":"D","j":47.9,"v":66.6},{"s":"D","j":49.5,"v":45.9},{"s":"D","j":52.1,"v":33.5},{"s":"D","j":54.7,"v":26.2},{"s":"D","j":56.4,"v":27.3},{"s":"D","j":58.2,"v":37.6},{"s":"D","j":60.3,"v":49.0},{"s":"D","j":62.5,"v":53.1},{"s":"D","j":65.0,"v":52.1},{"s":"D","j":68.9,"v":52.1},{"s":"D","j":71.1,"v":51.0},{"s":"D","j":73.2,"v":43.8},{"s":"D","j":75.4,"v":33.5},{"s":"D","j":77.5,"v":33.5},{"s":"D","j":80.1,"v":38.6},{"s":"D","j":81.8,"v":45.9},{"s":"D","j":84.0,"v":64.5},{"s":"D","j":86.1,"v":79.0},{"s":"D","j":88.6,"v":87.2},{"s":"D","j":91.2,"v":90.3},{"s":"D","j":93.0,"v":92.4},{"s":"D","j":94.7,"v":87.2},{"s":"D","j":96.9,"v":69.7},{"s":"D","j":99.0,"v":51.0},{"s":"D","j":100.8,"v":56.2},{"s":"D","j":103.4,"v":61.4},{"s":"D","j":105.9,"v":64.5},{"s":"D","j":107.6,"v":59.3},{"s":"D","j":109.3,"v":45.9},{"s":"D","j":111.1,"v":35.5},{"s":"D","j":113.2,"v":42.8},{"s":"D","j":115.4,"v":53.1},{"s":"D","j":117.0,"v":63.5},{"s":"D","j":118.8,"v":64.5},{"s":"D","j":120.5,"v":53.1},{"s":"D","j":122.7,"v":35.5},{"s":"D","j":124.8,"v":25.2},{"s":"D","j":126.7,"v":20.0},
{"s":"K","j":-0.4,"v":69.7},{"s":"K","j":2.2,"v":76.9},{"s":"K","j":4.8,"v":81.0},{"s":"K","j":6.1,"v":80.0},{"s":"K","j":7.4,"v":69.7},{"s":"K","j":8.9,"v":38.6},{"s":"K","j":9.9,"v":37.6},{"s":"K","j":10.8,"v":49.0},{"s":"K","j":11.9,"v":66.6},{"s":"K","j":13.0,"v":53.1},{"s":"K","j":13.8,"v":35.5},{"s":"K","j":16.0,"v":28.3},{"s":"K","j":17.7,"v":26.2},{"s":"K","j":19.5,"v":24.2},{"s":"K","j":21.2,"v":28.3},{"s":"K","j":22.8,"v":35.5},{"s":"K","j":24.1,"v":53.1},{"s":"K","j":25.4,"v":63.5},{"s":"K","j":26.6,"v":74.8},{"s":"K","j":28.0,"v":82.1},{"s":"K","j":30.2,"v":87.2},{"s":"K","j":32.4,"v":91.4},{"s":"K","j":33.7,"v":90.3},{"s":"K","j":35.4,"v":73.8},{"s":"K","j":36.6,"v":56.2},{"s":"K","j":37.9,"v":42.8},{"s":"K","j":39.2,"v":45.9},{"s":"K","j":41.8,"v":45.9},{"s":"K","j":43.5,"v":73.8},{"s":"K","j":44.8,"v":75.9},{"s":"K","j":47.0,"v":73.8},{"s":"K","j":49.2,"v":37.6},{"s":"K","j":51.2,"v":28.3},{"s":"K","j":53.8,"v":18.0},{"s":"K","j":56.0,"v":24.2},{"s":"K","j":56.9,"v":37.6},{"s":"K","j":57.9,"v":42.8},{"s":"K","j":59.0,"v":54.2},{"s":"K","j":59.9,"v":53.1},{"s":"K","j":60.8,"v":61.4},{"s":"K","j":62.1,"v":51.0},{"s":"K","j":63.7,"v":54.2},{"s":"K","j":65.0,"v":53.1},{"s":"K","j":68.9,"v":53.1},{"s":"K","j":71.1,"v":52.1},{"s":"K","j":72.4,"v":40.7},{"s":"K","j":73.7,"v":38.6},{"s":"K","j":75.4,"v":22.1},{"s":"K","j":76.6,"v":33.5},{"s":"K","j":78.3,"v":40.7},{"s":"K","j":80.1,"v":45.9},{"s":"K","j":81.4,"v":51.0},{"s":"K","j":82.7,"v":69.7},{"s":"K","j":84.0,"v":79.0},{"s":"K","j":85.7,"v":87.2},{"s":"K","j":87.9,"v":92.4},{"s":"K","j":89.9,"v":92.4},{"s":"K","j":91.2,"v":85.2},{"s":"K","j":93.0,"v":92.4},{"s":"K","j":94.3,"v":89.3},{"s":"K","j":96.0,"v":66.6},{"s":"K","j":97.7,"v":45.9},{"s":"K","j":99.0,"v":35.5},{"s":"K","j":100.3,"v":53.1},{"s":"K","j":102.1,"v":66.6},{"s":"K","j":104.1,"v":61.4},{"s":"K","j":105.9,"v":67.6},{"s":"K","j":107.2,"v":56.2},{"s":"K","j":108.9,"v":28.3},{"s":"K","j":110.2,"v":23.1},{"s":"K","j":111.5,"v":28.3},{"s":"K","j":113.2,"v":42.8},{"s":"K","j":114.5,"v":51.0},{"s":"K","j":116.3,"v":69.7},{"s":"K","j":117.5,"v":66.6},{"s":"K","j":118.8,"v":63.5},{"s":"K","j":119.9,"v":43.8},{"s":"K","j":121.4,"v":28.3},{"s":"K","j":123.1,"v":20.0},{"s":"K","j":124.8,"v":14.9},{"s":"K","j":126.7,"v":15.9}
]
},
"vconcat": [
{
"width": 1026, "height": 448,
"layer": [
{"data": {"name": "candles"}, "mark": {"type": "rule", "strokeWidth": 1},
 "encoding": {
  "x": {"field": "i", "type": "quantitative", "scale": {"domain": [-0.6, 125.6], "nice": false, "zero": false}, "axis": null},
  "y": {"field": "l", "type": "quantitative", "scale": {"domain": [0.76444, 0.781955], "nice": false, "zero": false},
        "axis": {"orient": "right", "values": [0.766, 0.768, 0.77, 0.772, 0.774, 0.776, 0.778, 0.78], "format": ".4f", "grid": true, "gridColor": "#cfcfcf", "gridDash": [1, 2], "ticks": false, "domain": true, "domainColor": "#e3e3e3", "labelColor": "#808080", "labelFont": "DejaVu Sans Mono", "labelFontSize": 10.5, "labelAlign": "right", "labelPadding": 51, "title": null}},
  "y2": {"field": "h"},
  "color": {"condition": {"test": "datum.c >= datum.o", "value": "#d48a8c"}, "value": "#3d8b3d"}
 }},
{"data": {"name": "candles"}, "mark": {"type": "bar", "width": 6, "strokeWidth": 1},
 "encoding": {
  "x": {"field": "i", "type": "quantitative"},
  "y": {"field": "o", "type": "quantitative"},
  "y2": {"field": "c"},
  "fill": {"condition": {"test": "datum.c >= datum.o", "value": "#ffffff"}, "value": "#3d8b3d"},
  "stroke": {"condition": {"test": "datum.c >= datum.o", "value": "#d48a8c"}, "value": "#3d8b3d"}
 }},
{"data": {"name": "ma"}, "mark": {"type": "line", "strokeWidth": 1.1, "interpolate": "monotone"},
 "encoding": {
  "x": {"field": "i", "type": "quantitative"},
  "y": {"field": "v", "type": "quantitative"},
  "color": {"field": "ma", "type": "nominal", "legend": null,
   "scale": {"domain": ["MA250", "MA120", "MA60", "MA30", "MA20", "MA10", "MA5"], "range": ["#f0b442", "#3f8fc8", "#3d8b3d", "#8b3b3b", "#a9a9a9", "#d050d0", "#1a1a1a"]}}
 }},
{"data": {"values": [{"i1": 101.0, "i2": 124.8, "p": 0.77187}, {"i1": 111.1, "i2": 125.0, "p": 0.76449}]},
 "mark": {"type": "rule", "strokeWidth": 4.5, "color": "#e8383a"},
 "encoding": {"x": {"field": "i1", "type": "quantitative"}, "x2": {"field": "i2"}, "y": {"field": "p", "type": "quantitative"}}},
{"data": {"values": [{"t": "澳/美 2 小时走势", "i": 70.5, "p": 0.77961}]},
 "mark": {"type": "text", "fontSize": 27, "color": "#111111", "font": "Noto Sans CJK SC", "align": "center", "baseline": "middle"},
 "encoding": {"x": {"field": "i", "type": "quantitative"}, "y": {"field": "p", "type": "quantitative"}, "text": {"field": "t"}}},
{"data": {"values": [{"t": "压力0.7720", "i": 110.8, "p": 0.77050}, {"t": "支撑0.7620", "i": 103.4, "p": 0.76475}]},
 "mark": {"type": "text", "fontSize": 16, "color": "#e0565a", "font": "Noto Sans CJK SC", "align": "center", "baseline": "middle"},
 "encoding": {"x": {"field": "i", "type": "quantitative"}, "y": {"field": "p", "type": "quantitative"}, "text": {"field": "t"}}},
{"data": {"values": [{"t": "0.7651", "i": 115.7, "p": 0.76538}]},
 "mark": {"type": "text", "fontSize": 11, "color": "#d9783c", "font": "DejaVu Sans Mono", "align": "center", "baseline": "middle"},
 "encoding": {"x": {"field": "i", "type": "quantitative"}, "y": {"field": "p", "type": "quantitative"}, "text": {"field": "t"}}},
{"data": {"values": [{"i1": 117.8, "i2": 119.4, "p1": 0.76530, "p2": 0.76512}]},
 "mark": {"type": "rule", "strokeWidth": 1, "color": "#d9783c"},
 "encoding": {"x": {"field": "i1", "type": "quantitative"}, "x2": {"field": "i2"}, "y": {"field": "p1", "type": "quantitative"}, "y2": {"field": "p2"}}},
{"data": {"values": [{"i": 125.2, "p": 0.76605}]},
 "mark": {"type": "point", "shape": "M-1,-0.35L0.15,-0.35L0.15,-0.8L1,0L0.15,0.8L0.15,0.35L-1,0.35Z", "size": 1700, "angle": 38, "filled": false, "fill": "#ffffff", "fillOpacity": 1, "stroke": "#e8251f", "strokeWidth": 4, "opacity": 1},
 "encoding": {"x": {"field": "i", "type": "quantitative"}, "y": {"field": "p", "type": "quantitative"}}},
{"data": {"values": [{"i": 130.4, "p": 0.76605}]},
 "mark": {"type": "point", "shape": "M-1,-0.35L0.15,-0.35L0.15,-0.8L1,0L0.15,0.8L0.15,0.35L-1,0.35Z", "size": 2300, "angle": -12, "filled": false, "fill": "#ffffff", "fillOpacity": 1, "stroke": "#e8251f", "strokeWidth": 4, "opacity": 1},
 "encoding": {"x": {"field": "i", "type": "quantitative"}, "y": {"field": "p", "type": "quantitative"}}}
]
},
{
"width": 1026, "height": 97,
"layer": [
{"data": {"name": "hist"}, "mark": {"type": "rule", "strokeWidth": 1.2},
 "encoding": {
  "x": {"field": "j", "type": "quantitative", "scale": {"domain": [-0.52, 131.9], "nice": false, "zero": false}, "axis": null},
  "y": {"field": "v", "type": "quantitative", "scale": {"domain": [-0.00163, 0.0016], "nice": false, "zero": false},
        "axis": {"orient": "right", "values": [0.000833, -0.000367, -0.0014], "labelExpr": "datum.value > 0 ? '0.0000' : '-0.0000'", "grid": true, "gridColor": "#d3d3d3", "gridDash": [1, 2], "ticks": false, "domain": true, "domainColor": "#e3e3e3", "labelColor": "#808080", "labelFont": "DejaVu Sans Mono", "labelFontSize": 10.5, "labelAlign": "right", "labelPadding": 51, "title": null}},
  "y2": {"datum": 0},
  "color": {"condition": {"test": "datum.v >= 0", "value": "#cf8c8c"}, "value": "#4f8a4f"}
 }},
{"data": {"name": "macd"}, "mark": {"type": "line", "strokeWidth": 1.2, "interpolate": "monotone"},
 "encoding": {
  "x": {"field": "j", "type": "quantitative"},
  "y": {"field": "v", "type": "quantitative"},
  "color": {"field": "s", "type": "nominal", "legend": null, "scale": {"domain": ["DEA", "DIF"], "range": ["#d050d0", "#1a1a1a"]}}
 }},
{"data": {"values": [{"t": "-0.0013 ↓", "j": -0.13, "v": 0.0013}]},
 "mark": {"type": "text", "fontSize": 9.5, "color": "#c040c0", "font": "DejaVu Sans Mono", "align": "left", "baseline": "middle"},
 "encoding": {"x": {"field": "j", "type": "quantitative"}, "y": {"field": "v", "type": "quantitative"}, "text": {"field": "t"}}},
{"data": {"values": [{"t": "MACD:-0.0016 ↑", "j": 7.0, "v": 0.0013}]},
 "mark": {"type": "text", "fontSize": 9.5, "color": "#707070", "font": "DejaVu Sans Mono", "align": "left", "baseline": "middle"},
 "encoding": {"x": {"field": "j", "type": "quantitative"}, "y": {"field": "v", "type": "quantitative"}, "text": {"field": "t"}}},
{"data": {"values": [{"t": "改参数  加指标  换指标", "j": 128.9, "v": 0.0013}]},
 "mark": {"type": "text", "fontSize": 12, "color": "#444444", "font": "Noto Sans CJK SC", "align": "right", "baseline": "middle"},
 "encoding": {"x": {"field": "j", "type": "quantitative"}, "y": {"field": "v", "type": "quantitative"}, "text": {"field": "t"}}},
{"data": {"values": [{"j": 130.8, "v": 0.0013}]},
 "mark": {"type": "square", "size": 110, "filled": false, "stroke": "#999999", "strokeWidth": 1},
 "encoding": {"x": {"field": "j", "type": "quantitative"}, "y": {"field": "v", "type": "quantitative"}}},
{"data": {"values": [{"t": "×", "j": 130.8, "v": 0.0013}]},
 "mark": {"type": "text", "fontSize": 12, "color": "#777777", "align": "center", "baseline": "middle"},
 "encoding": {"x": {"field": "j", "type": "quantitative"}, "y": {"field": "v", "type": "quantitative"}, "text": {"field": "t"}}}
]
},
{
"width": 1026, "height": 103,
"layer": [
{"data": {"name": "kd"}, "mark": {"type": "line", "strokeWidth": 1.2, "interpolate": "monotone"},
 "encoding": {
  "x": {"field": "j", "type": "quantitative", "scale": {"domain": [-0.52, 131.9], "nice": false, "zero": false}, "axis": null},
  "y": {"field": "v", "type": "quantitative", "scale": {"domain": [11.7, 118.3], "nice": false, "zero": false},
        "axis": {"orient": "right", "values": [20, 50, 80], "format": ".4f", "grid": true, "gridColor": "#d3d3d3", "gridDash": [1, 2], "ticks": false, "domain": true, "domainColor": "#e3e3e3", "labelColor": "#808080", "labelFont": "DejaVu Sans Mono", "labelFontSize": 10.5, "labelAlign": "right", "labelPadding": 51, "title": null}},
  "color": {"field": "s", "type": "nominal", "legend": null, "scale": {"domain": ["D", "K"], "range": ["#d050d0", "#1a1a1a"]}}
 }},
{"data": {"values": [{"j1": 110.5, "j2": 130.8, "v": 50}]},
 "mark": {"type": "rule", "strokeWidth": 3, "color": "#e8383a"},
 "encoding": {"x": {"field": "j1", "type": "quantitative"}, "x2": {"field": "j2"}, "y": {"field": "v", "type": "quantitative"}}},
{"data": {"values": [{"t": "KD在50以下，空方掌控", "j": 116.6, "v": 79.0}]},
 "mark": {"type": "text", "fontSize": 16, "color": "#e84a44", "font": "Noto Sans CJK SC", "align": "center", "baseline": "middle"},
 "encoding": {"x": {"field": "j", "type": "quantitative"}, "y": {"field": "v", "type": "quantitative"}, "text": {"field": "t"}}},
{"data": {"values": [{"t": "↓", "j": 0.13, "v": 104.8}]},
 "mark": {"type": "text", "fontSize": 11, "color": "#c040c0", "font": "DejaVu Sans", "align": "center", "baseline": "middle"},
 "encoding": {"x": {"field": "j", "type": "quantitative"}, "y": {"field": "v", "type": "quantitative"}, "text": {"field": "t"}}},
{"data": {"values": [{"t": "改参数  加指标  换指标", "j": 128.9, "v": 104.8}]},
 "mark": {"type": "text", "fontSize": 12, "color": "#444444", "font": "Noto Sans CJK SC", "align": "right", "baseline": "middle"},
 "encoding": {"x": {"field": "j", "type": "quantitative"}, "y": {"field": "v", "type": "quantitative"}, "text": {"field": "t"}}},
{"data": {"values": [{"j": 130.8, "v": 104.8}]},
 "mark": {"type": "square", "size": 110, "filled": false, "stroke": "#999999", "strokeWidth": 1},
 "encoding": {"x": {"field": "j", "type": "quantitative"}, "y": {"field": "v", "type": "quantitative"}}},
{"data": {"values": [{"t": "×", "j": 130.8, "v": 104.8}]},
 "mark": {"type": "text", "fontSize": 12, "color": "#777777", "align": "center", "baseline": "middle"},
 "encoding": {"x": {"field": "j", "type": "quantitative"}, "y": {"field": "v", "type": "quantitative"}, "text": {"field": "t"}}}
]
}
]
}
